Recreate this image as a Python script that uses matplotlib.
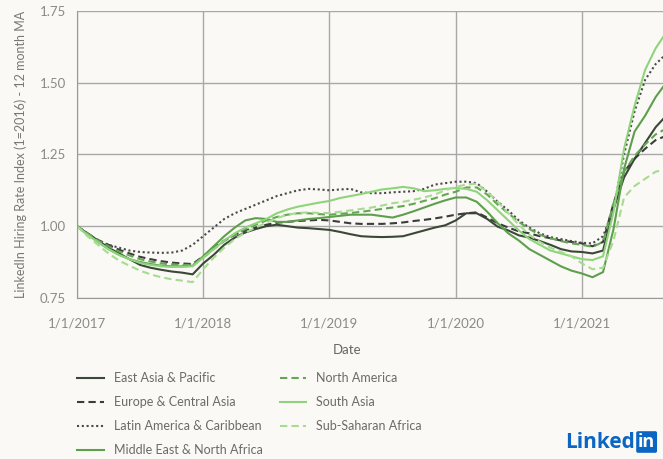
import matplotlib.pyplot as plt
import numpy as np

# monthly index values, Jan 2017 .. Sep 2021
east_asia = [1.000, 0.975, 0.950, 0.925, 0.905, 0.885, 0.865, 0.855, 0.848, 0.842, 0.838, 0.832,
             0.870, 0.900, 0.935, 0.960, 0.978, 0.990, 1.000, 1.005, 1.000, 0.995, 0.993, 0.990,
             0.987, 0.980, 0.972, 0.965, 0.963, 0.962, 0.963, 0.965, 0.975, 0.985, 0.995, 1.003,
             1.020, 1.045, 1.045, 1.025, 0.998, 0.985, 0.968, 0.960, 0.948, 0.935, 0.920, 0.912,
             0.910, 0.905, 0.915, 1.060, 1.170, 1.235, 1.290, 1.345, 1.385]
europe = [1.000, 0.975, 0.952, 0.935, 0.918, 0.905, 0.893, 0.885, 0.878, 0.873, 0.870, 0.868,
          0.895, 0.925, 0.950, 0.970, 0.985, 0.995, 1.005, 1.012, 1.015, 1.018, 1.020, 1.022,
          1.020, 1.015, 1.010, 1.008, 1.008, 1.008, 1.010, 1.013, 1.018, 1.022, 1.027, 1.033,
          1.040, 1.045, 1.048, 1.030, 1.010, 0.995, 0.982, 0.975, 0.965, 0.958, 0.950, 0.945,
          0.940, 0.930, 0.945, 1.080, 1.190, 1.235, 1.270, 1.300, 1.315]
latin_america = [1.000, 0.975, 0.950, 0.935, 0.925, 0.915, 0.910, 0.908, 0.907, 0.908, 0.915, 0.935,
                 0.965, 0.995, 1.025, 1.045, 1.060, 1.075, 1.090, 1.105, 1.115, 1.125, 1.130, 1.128,
                 1.125, 1.128, 1.130, 1.118, 1.115, 1.115, 1.118, 1.120, 1.122, 1.130, 1.145, 1.150,
                 1.155, 1.155, 1.150, 1.120, 1.085, 1.055, 1.020, 0.995, 0.975, 0.962, 0.955, 0.948,
                 0.942, 0.940, 0.965, 1.060, 1.250, 1.400, 1.510, 1.565, 1.600]
mid_east = [1.000, 0.972, 0.945, 0.920, 0.900, 0.885, 0.875, 0.868, 0.862, 0.860, 0.860, 0.862,
            0.895, 0.930, 0.965, 0.995, 1.020, 1.028, 1.025, 1.015, 1.015, 1.020, 1.025, 1.028,
            1.032, 1.036, 1.040, 1.040, 1.040, 1.035, 1.030, 1.040, 1.052, 1.065, 1.078, 1.090,
            1.100, 1.100, 1.085, 1.050, 1.010, 0.975, 0.950, 0.920, 0.900, 0.880, 0.860, 0.845,
            0.835, 0.822, 0.840, 0.990, 1.200, 1.330, 1.385, 1.450, 1.500]
north_america = [1.000, 0.975, 0.950, 0.930, 0.912, 0.898, 0.885, 0.877, 0.870, 0.867, 0.865, 0.865,
                 0.890, 0.920, 0.948, 0.970, 0.990, 1.005, 1.020, 1.032, 1.040, 1.045, 1.045, 1.042,
                 1.040, 1.043, 1.046, 1.050, 1.055, 1.060, 1.065, 1.070, 1.078, 1.088, 1.097, 1.110,
                 1.120, 1.135, 1.135, 1.110, 1.075, 1.045, 1.015, 0.990, 0.970, 0.958, 0.948, 0.940,
                 0.935, 0.928, 0.945, 1.080, 1.190, 1.245, 1.285, 1.320, 1.340]
south_asia = [1.000, 0.970, 0.945, 0.920, 0.900, 0.885, 0.872, 0.865, 0.860, 0.858, 0.858, 0.860,
              0.890, 0.920, 0.950, 0.975, 0.995, 1.010, 1.025, 1.045, 1.058, 1.068, 1.075, 1.082,
              1.088, 1.098, 1.105, 1.112, 1.120, 1.128, 1.132, 1.137, 1.132, 1.122, 1.125, 1.130,
              1.133, 1.130, 1.120, 1.090, 1.055, 1.020, 0.985, 0.955, 0.935, 0.915, 0.905, 0.895,
              0.885, 0.882, 0.895, 1.050, 1.270, 1.420, 1.545, 1.620, 1.675]
sub_saharan = [1.000, 0.965, 0.935, 0.905, 0.880, 0.862, 0.845, 0.832, 0.822, 0.815, 0.810, 0.805,
               0.850, 0.890, 0.925, 0.955, 0.978, 0.995, 1.012, 1.028, 1.040, 1.046, 1.048, 1.046,
               1.046, 1.050, 1.055, 1.060, 1.065, 1.072, 1.080, 1.085, 1.092, 1.100, 1.110, 1.125,
               1.137, 1.145, 1.148, 1.120, 1.085, 1.045, 1.005, 0.970, 0.945, 0.925, 0.910, 0.895,
               0.870, 0.850, 0.855, 0.950, 1.100, 1.140, 1.165, 1.190, 1.198]

tick_months = [0, 12, 24, 36, 48]
tick_labels = ["1/1/2017", "1/1/2018", "1/1/2019", "1/1/2020", "1/1/2021"]

bg = "#fbf9f5"
plt.rcParams["font.family"] = ["Lato", "DejaVu Sans"]

fig = plt.figure(figsize=(6.63, 4.59), dpi=100, facecolor=bg)
ax = fig.add_axes([0.116, 0.351, 0.884, 0.625], facecolor=bg)

months = np.arange(len(east_asia))
series = [
    ("East Asia & Pacific", east_asia, "#3a4838", "-"),
    ("Europe & Central Asia", europe, "#3c3c3c", (0, (3.5, 2))),
    ("Latin America & Caribbean", latin_america, "#4a4a4a", (0, (1, 1.3))),
    ("Middle East & North Africa", mid_east, "#5e9f4d", "-"),
    ("North America", north_america, "#63a653", (0, (3.5, 2))),
    ("South Asia", south_asia, "#8fd47c", "-"),
    ("Sub-Saharan Africa", sub_saharan, "#a6dc90", (0, (3.5, 2))),
]
for name, vals, col, ls in series:
    ax.plot(months, vals, color=col, linestyle=ls, linewidth=1.5, label=name)

ax.set_xlim(0, 55.7)
ax.set_ylim(0.75, 1.75)
ax.set_yticks([0.75, 1.00, 1.25, 1.50, 1.75])
ax.set_yticklabels(["0.75", "1.00", "1.25", "1.50", "1.75"])
ax.set_xticks(tick_months)
ax.set_xticklabels(tick_labels)
ax.grid(True, color="#a8a8a8", linewidth=1)
ax.set_axisbelow(True)
ax.tick_params(axis="x", length=0, colors="#8a8a8a", labelsize=9.5, pad=14)
ax.tick_params(axis="y", length=0, colors="#8a8a8a", labelsize=9.5, pad=8)
for side in ["top", "right"]:
    ax.spines[side].set_visible(False)
for side in ["left", "bottom"]:
    ax.spines[side].set_color("#999999")

ax.set_ylabel("LinkedIn Hiring Rate Index (1=2016) - 12 month MA", color="#777777",
              fontsize=9, labelpad=9)
fig.text(347 / 663, 1 - 350 / 459, "Date", color="#666666", fontsize=9.5,
         ha="center", va="center")

fig.legend(loc="upper left", bbox_to_anchor=(66 / 663, 1 - 361 / 459), ncol=2,
           frameon=False, fontsize=9, labelcolor="#6a6a6a", handlelength=2.1,
           handletextpad=0.8, columnspacing=1.4, labelspacing=0.95)

# LinkedIn wordmark
fig.text(565 / 663, 1 - 442 / 459, "Linked", color="#0a66c2", fontsize=15,
         fontweight="bold", ha="left", va="center", family="Open Sans")
fig.text(638 / 663, 1 - 442 / 459, "in", color="white", fontsize=13,
         fontweight="bold", ha="left", va="center", family="Open Sans",
         bbox=dict(boxstyle="round,pad=0.1", fc="#0a66c2", ec="none"))

fig.savefig("out.png", dpi=100, facecolor=bg)
